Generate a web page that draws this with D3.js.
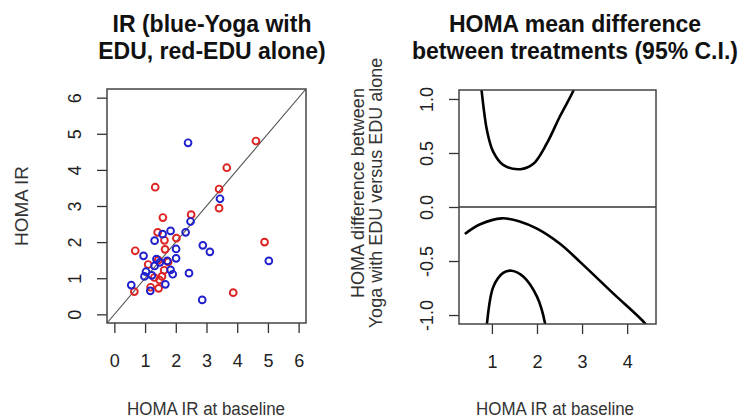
<!DOCTYPE html>
<html>
<head>
<meta charset="utf-8">
<script src="https://cdn.jsdelivr.net/npm/d3@7"></script>
<style>
body { margin: 0; background: #fff; }
svg { display: block; font-family: "Liberation Sans", Arial, sans-serif; }
</style>
</head>
<body>
<svg width="745" height="418"></svg>
<script>
// scatter: HOMA IR at baseline (x) vs HOMA IR after (y)
var yogaX = [2.40, 3.44, 2.48, 2.32, 1.83, 1.57, 1.31, 2.88, 3.11, 5.03, 0.95, 2.01, 2.01, 1.37, 1.48, 1.72, 1.31, 1.03, 0.98, 1.22, 1.83, 1.90, 2.43, 1.66, 0.55, 1.17, 2.86];
var yogaY = [4.75, 3.20, 2.57, 2.27, 2.31, 2.22, 2.04, 1.91, 1.73, 1.48, 1.62, 1.81, 1.55, 1.53, 1.44, 1.48, 1.34, 1.18, 1.05, 1.08, 1.23, 1.11, 1.14, 0.83, 0.81, 0.65, 0.40];
var eduX = [4.61, 3.66, 1.33, 3.41, 3.41, 2.50, 1.58, 1.41, 1.63, 2.02, 4.89, 0.68, 1.65, 1.10, 1.43, 1.62, 1.55, 1.47, 1.18, 1.44, 0.65, 3.87, 1.30, 1.75];
var eduY = [4.80, 4.06, 3.52, 3.47, 2.94, 2.76, 2.68, 2.27, 2.05, 2.11, 2.00, 1.76, 1.80, 1.38, 1.50, 1.22, 1.05, 0.95, 0.75, 0.72, 0.63, 0.60, 1.02, 1.45];
var leftTicks = [0, 1, 2, 3, 4, 5, 6];

// mean difference curve with 95% CI
var estX = [0.40, 0.74, 1.22, 1.63, 2.00, 2.51, 2.96, 3.69, 4.40, 4.50];
var estY = [-0.25, -0.16, -0.105, -0.136, -0.20, -0.34, -0.51, -0.80, -1.08, -1.15];
var upX = [0.74, 0.77, 0.89, 1.03, 1.25, 1.63, 1.92, 2.22, 2.51, 2.81, 2.86];
var upY = [1.20, 1.083, 0.71, 0.51, 0.39, 0.35, 0.40, 0.59, 0.84, 1.08, 1.15];
var loX = [0.87, 0.89, 1.03, 1.25, 1.44, 1.70, 2.00, 2.18, 2.21];
var loY = [-1.20, -1.08, -0.74, -0.61, -0.59, -0.645, -0.83, -1.08, -1.20];
var rightXTicks = [1, 2, 3, 4];
var rightYTicks = [-1.0, -0.5, 0.0, 0.5, 1.0];

var svg = d3.select('svg');
var tickLen = 10;

function drawTitle(cx, lines){
	lines.forEach(function(t, i){
		svg.append('text').attr('x', cx).attr('y', 32 + i*27)
			.attr('text-anchor', 'middle').style('font-weight', 'bold')
			.style('font-size', '23px').style('fill', '#111').text(t);
	});
}

function drawAxes(g, x, y, xt, yt, yfmt){
	var xr = x.range(), yr = y.range();
	var xa = g.append('g').attr('transform', 'translate(0,' + yr[0] + ')')
		.call(d3.axisBottom(x).tickValues(xt).tickSize(tickLen).tickPadding(21).tickFormat(d3.format('d')));
	var ya = g.append('g').attr('transform', 'translate(' + xr[0] + ',0)')
		.call(d3.axisLeft(y).tickValues(yt).tickSize(tickLen).tickFormat(yfmt));
	[xa, ya].forEach(function(a){
		a.select('.domain').remove();
		a.selectAll('line').attr('stroke', '#333').attr('stroke-width', 1.3);
		a.selectAll('text').style('font-size', '18px').style('fill', '#222').attr('font-family', null);
	});
	ya.selectAll('.tick text').attr('x', null).attr('dy', null)
		.attr('text-anchor', 'middle').attr('transform', 'translate(-26,0) rotate(-90)').attr('y', 0);
	g.append('rect').attr('x', xr[0]).attr('y', yr[1])
		.attr('width', xr[1] - xr[0]).attr('height', yr[0] - yr[1])
		.attr('fill', 'none').attr('stroke', '#444').attr('stroke-width', 1.5);
}

// ---- left panel
var xL = d3.scaleLinear().domain([-0.24, 6.24]).range([107, 306]);
var yL = d3.scaleLinear().domain([-0.24, 6.24]).range([323, 89]);
var gL = svg.append('g');
svg.append('clipPath').attr('id', 'clipL').append('rect')
	.attr('x', 107).attr('y', 89).attr('width', 199).attr('height', 234);

gL.append('line').attr('clip-path', 'url(#clipL)')
	.attr('x1', xL(-0.24)).attr('y1', yL(-0.24)).attr('x2', xL(6.24)).attr('y2', yL(6.24))
	.attr('stroke', '#555').attr('stroke-width', 1.1);

gL.selectAll('circle.edu').data(d3.range(eduX.length)).join('circle').attr('class', 'edu')
	.attr('cx', i => xL(eduX[i])).attr('cy', i => yL(eduY[i])).attr('r', 3.4)
	.attr('fill', 'none').attr('stroke', '#dd2222').attr('stroke-width', 1.9);
gL.selectAll('circle.yoga').data(d3.range(yogaX.length)).join('circle').attr('class', 'yoga')
	.attr('cx', i => xL(yogaX[i])).attr('cy', i => yL(yogaY[i])).attr('r', 3.4)
	.attr('fill', 'none').attr('stroke', '#2020cc').attr('stroke-width', 1.9);

drawAxes(gL, xL, yL, leftTicks, leftTicks, d3.format('d'));

// ---- right panel
var xR = d3.scaleLinear().domain([0.27, 4.64]).range([459, 656]);
var yR = d3.scaleLinear().domain([-1.083, 1.083]).range([324, 90]);
var gR = svg.append('g');
svg.append('clipPath').attr('id', 'clipR').append('rect')
	.attr('x', 459).attr('y', 90).attr('width', 197).attr('height', 234);

gR.append('line').attr('x1', 459).attr('x2', 656).attr('y1', yR(0)).attr('y2', yR(0))
	.attr('stroke', '#333').attr('stroke-width', 1.3);

var line = d3.line().curve(d3.curveCatmullRom.alpha(0.5));
[[estX, estY], [upX, upY], [loX, loY]].forEach(function(s){
	var pts = s[0].map((v, i) => [xR(v), yR(s[1][i])]);
	gR.append('path').attr('clip-path', 'url(#clipR)').attr('d', line(pts))
		.attr('fill', 'none').attr('stroke', '#000').attr('stroke-width', 2.6);
});

// R prints a plain hyphen for negatives
drawAxes(gR, xR, yR, rightXTicks, rightYTicks, v => d3.format('.1f')(v).replace('\u2212', '-'));

// ---- titles and labels
drawTitle(212, ['IR (blue-Yoga with', 'EDU, red-EDU alone)']);
drawTitle(575, ['HOMA mean difference', 'between treatments (95% C.I.)']);

function label(x, y, t, rot, len){
	var el = svg.append('text').attr('text-anchor', 'middle').style('font-size', '18px').style('fill', '#333')
		.attr('transform', 'translate(' + x + ',' + y + ')' + (rot ? ' rotate(-90)' : '')).text(t);
	if(len){ el.attr('textLength', len).attr('lengthAdjust', 'spacingAndGlyphs'); }
}
label(206, 415, 'HOMA IR at baseline', false, 158);
label(555, 415, 'HOMA IR at baseline', false, 158);
label(28, 206, 'HOMA IR', true, 80);
label(364, 193, 'HOMA difference between', true, 0);
label(382, 193, 'Yoga with EDU versus EDU alone', true, 0);
</script>
</body>
</html>
